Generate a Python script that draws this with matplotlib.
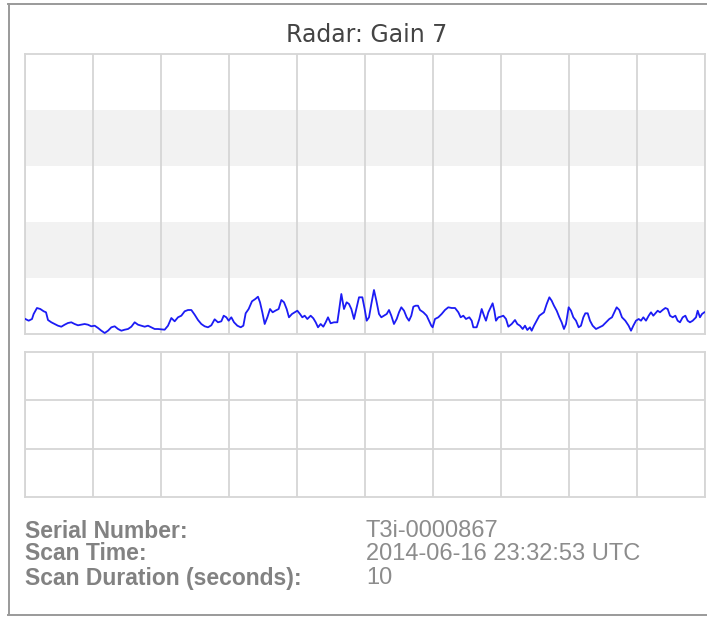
import matplotlib
matplotlib.use('Agg')
import matplotlib.pyplot as plt
from matplotlib.lines import Line2D

title = "Radar: Gain 7"

t_sec = [0.005, 0.054, 0.103, 0.127, 0.176, 0.225, 0.275, 0.309, 0.338, 0.387, 0.436, 0.485, 0.534, 0.583,
         0.632, 0.681, 0.730, 0.779, 0.828, 0.877, 0.926, 0.975, 1.025, 1.074, 1.123, 1.172, 1.221, 1.270,
         1.319, 1.368, 1.417, 1.466, 1.515, 1.564, 1.613, 1.662, 1.711, 1.760, 1.809, 1.858, 1.907, 1.956,
         2.005, 2.054, 2.103, 2.152, 2.201, 2.250, 2.299, 2.348, 2.397, 2.446, 2.495, 2.544, 2.593, 2.642,
         2.691, 2.740, 2.789, 2.838, 2.887, 2.922, 2.961, 2.995, 3.034, 3.074, 3.123, 3.172, 3.211, 3.245,
         3.289, 3.338, 3.387, 3.426, 3.456, 3.490, 3.525, 3.564, 3.603, 3.642, 3.681, 3.730, 3.770, 3.809,
         3.848, 3.882, 3.926,
         4.005, 4.044, 4.078, 4.113, 4.152, 4.201, 4.240, 4.275, 4.309, 4.348, 4.387, 4.422, 4.456, 4.495,
         4.544, 4.593, 4.618, 4.652, 4.691, 4.730, 4.765, 4.799, 4.838, 4.877, 4.912, 4.961, 4.995, 5.025,
         5.059, 5.093, 5.132, 5.167, 5.206, 5.240, 5.279, 5.319, 5.353, 5.387, 5.426, 5.466, 5.500, 5.534,
         5.574, 5.613, 5.647, 5.681, 5.711, 5.745, 5.779, 5.809, 5.858, 5.907, 5.941, 5.975,
         5.995, 6.029, 6.078, 6.127, 6.176, 6.225, 6.275, 6.324, 6.373, 6.407, 6.446, 6.485, 6.534, 6.569,
         6.593, 6.642, 6.681, 6.716, 6.750, 6.779, 6.814, 6.848, 6.877, 6.902, 6.926, 6.961, 6.995, 7.034,
         7.074, 7.108, 7.157, 7.206, 7.240, 7.279, 7.319, 7.353, 7.387, 7.426, 7.451, 7.485, 7.525, 7.564,
         7.598, 7.632, 7.672, 7.711, 7.745, 7.779, 7.819, 7.858, 7.892, 7.926, 7.956,
         7.995, 8.029, 8.064, 8.103, 8.142, 8.176, 8.211, 8.240, 8.275, 8.309, 8.348, 8.397, 8.446, 8.495,
         8.544, 8.593, 8.632, 8.667, 8.701, 8.740, 8.779, 8.828, 8.877, 8.912, 8.946, 8.985, 9.025, 9.059,
         9.093, 9.132, 9.172, 9.206, 9.240, 9.270, 9.304, 9.338, 9.377, 9.417, 9.451, 9.485, 9.525, 9.564,
         9.598, 9.632, 9.672, 9.711, 9.745, 9.779, 9.819, 9.868, 9.892, 9.926, 9.956, 9.990]

level = [15, 13.3, 15, 20, 26, 25, 22.7, 21.7, 14, 11.7, 10, 8.3, 7.3, 9.3,
         11, 11.7, 10, 8.7, 9.3, 10, 9.3, 7.7, 8.3, 6, 3.3, 1, 3.3, 6.7,
         7.7, 5, 3.3, 4.3, 5, 7.3, 11.7, 9.3, 8.3, 7.3, 8.3, 6.7, 5, 5,
         4.7, 4.3, 8.3, 16, 12.7, 16.7, 18.3, 22.7, 24, 24, 19.3, 14, 10, 7.7,
         6.7, 8.7, 14.7, 11.7, 12.7, 18.3, 16.7, 13.3, 16.7, 11.7, 8.3, 6.7, 8.3, 20.7,
         25, 32.7, 35, 37.3, 31.7, 21.7, 10, 16.7, 25, 21.7, 23.3, 25, 34, 31.7,
         25, 16.7, 20,
         23.3, 20, 16.7, 18.3, 15, 18.3, 15.7, 11.7, 6.7, 10, 7.3, 11.7, 16.7, 10.7,
         11.7, 11.7, 23.3, 40, 25, 31.7, 30, 25, 15, 26.7, 36.7, 36.7, 25, 13.3,
         16.7, 30, 44, 33.3, 20, 16.7, 18.3, 20, 24, 18.3, 10, 15, 21.7, 26.7,
         23.3, 16.7, 13.3, 18.3, 27.3, 28.3, 28.3, 24, 21.7, 18.3, 13.3, 8.3,
         6.7, 15, 16.7, 20, 24, 26.7, 26, 26, 21.7, 16.7, 18.3, 15, 16.7, 13.3,
         6.7, 6.7, 15, 25, 18.3, 13.3, 21.7, 26.7, 30.7, 23.3, 13.3, 16.7, 17.3, 18.3,
         15, 7.3, 10, 14, 10, 8.3, 5, 8.3, 4, 6.7, 3.3, 8.3, 13.3, 18.3,
         20, 21.7, 30, 36.7, 33.3, 28.3, 23.3, 16.7, 11.7, 5, 10,
         26.7, 23.3, 16.7, 13.3, 6.7, 8.3, 16.7, 20.7, 20.7, 13.3, 8.3, 5, 6.7, 8.3,
         11.7, 15, 16.7, 21.7, 26.7, 24, 16.7, 13.3, 8.3, 3.3, 8.3, 13.3, 15, 13.3,
         16.7, 13.3, 18.3, 21.7, 18.3, 20.7, 23.3, 21.7, 24, 26, 25, 18.3, 16.7, 18.3,
         13.3, 11.7, 16.7, 18.3, 13.3, 11.7, 13.3, 16.7, 23.3, 16.7, 20, 21.7]

x_grid = list(range(0, 11))
band_edges = [0, 56, 112, 168, 224, 280]
lower_rows = [1, 2]

info_labels = ["Serial Number:", "Scan Time:", "Scan Duration (seconds):"]
info_values = ["T3i-0000867", "2014-06-16 23:32:53 UTC", "10"]

W, H = 707, 617
fig = plt.figure(figsize=(W / 100, H / 100), dpi=100)
fig.patch.set_facecolor('white')


def fx(px):
    return px / W


def fy(py):
    return 1 - py / H


grid_col = '#d6d6d6'

# top panel
ax = fig.add_axes([fx(25), fy(334), fx(705) - fx(25), fy(54) - fy(334)])
ax.set_xlim(0, 10)
ax.set_ylim(band_edges[0], band_edges[-1])
for i in range(len(band_edges) - 1):
    if i % 2 == 1:
        ax.axhspan(band_edges[i], band_edges[i + 1], color='#f2f2f2', lw=0, zorder=0)
for xv in x_grid:
    ax.axvline(xv, color=grid_col, lw=1.3, zorder=1)
ax.plot(t_sec, level, color='#1c1cf5', lw=1.3, zorder=3, solid_joinstyle='round')
for s in ax.spines.values():
    s.set_color(grid_col)
    s.set_linewidth(1.3)
ax.set_xticks([])
ax.set_yticks([])

# bottom panel
ax2 = fig.add_axes([fx(25), fy(497), fx(705) - fx(25), fy(352) - fy(497)])
ax2.set_xlim(0, 10)
ax2.set_ylim(0, 3)
for xv in x_grid:
    ax2.axvline(xv, color=grid_col, lw=1.3, zorder=1)
for yv in lower_rows:
    ax2.axhline(yv, color=grid_col, lw=1.3, zorder=1)
for s in ax2.spines.values():
    s.set_color(grid_col)
    s.set_linewidth(1.3)
ax2.set_xticks([])
ax2.set_yticks([])

# title
fig.text(fx(367), fy(35), title, ha='center', va='center', fontsize=17,
         color='#444444', family='DejaVu Sans')

# info block
rows_y = [531, 554, 578]
for lab, val, ry in zip(info_labels, info_values, rows_y):
    fig.text(fx(25), fy(ry), lab, ha='left', va='center', fontsize=16.5,
             fontweight='bold', color='#828282', family='Liberation Sans')
    fig.text(fx(366), fy(ry), val, ha='left', va='center', fontsize=17,
             color='#8c8c8c', family='Liberation Sans')

# outer border
bc = '#9a9a9a'
fig.add_artist(Line2D([fx(8.5), fx(8.5)], [fy(4), fy(615)], color=bc, lw=1.4))
fig.add_artist(Line2D([fx(8), fx(707)], [fy(4), fy(4)], color=bc, lw=1.4))
fig.add_artist(Line2D([fx(8), fx(707)], [fy(615), fy(615)], color=bc, lw=1.4))

fig.savefig('out.png', dpi=100, facecolor='white')
